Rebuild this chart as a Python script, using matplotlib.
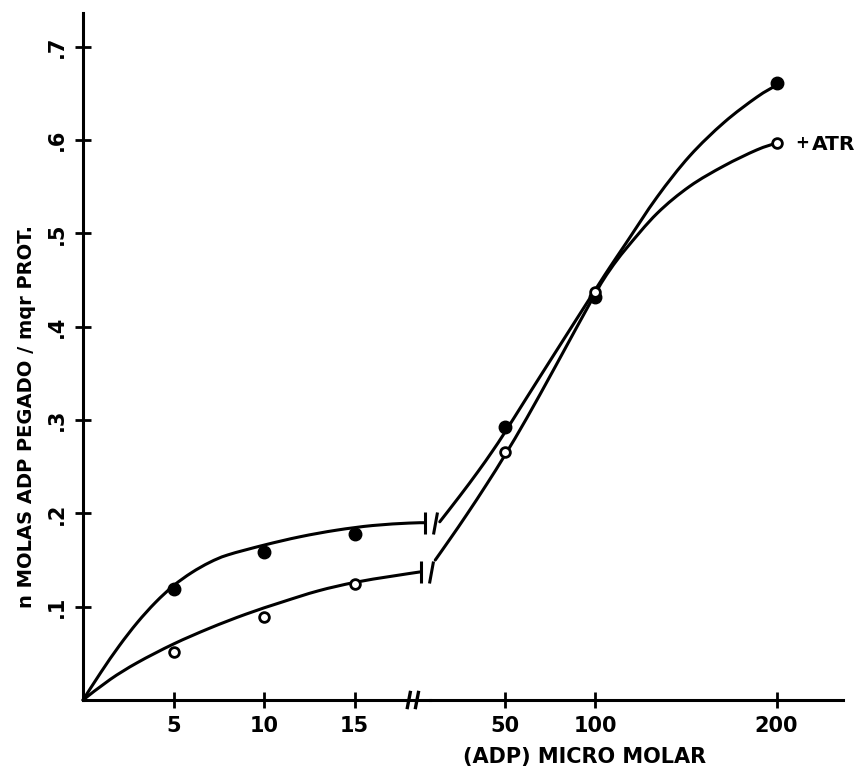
import matplotlib
matplotlib.use("Agg")
import matplotlib.pyplot as plt
import numpy as np
from matplotlib.markers import MarkerStyle
from matplotlib.path import Path
from matplotlib.patches import PathPatch
from matplotlib.transforms import Affine2D, blended_transform_factory

plt.rcParams['font.family'] = ['DejaVu Sans']
plt.rcParams['font.weight'] = 'bold'

# ---- data: measured points ----
x_low = [5, 10, 15]
filled_low = [0.119, 0.159, 0.178]
open_low = [0.051, 0.089, 0.124]

x_high = [50, 100, 200]
filled_high = [0.293, 0.432, 0.661]
open_high = [0.266, 0.437, 0.597]

# ---- hand-drawn guide curves ----
top_low_x = [0, 1, 2, 3, 4, 5, 6, 7, 8, 10, 12, 14, 16, 18, 18.9]
top_low_y = [0, 0.030, 0.058, 0.083, 0.1045, 0.1225, 0.1365, 0.1475, 0.1555, 0.166,
             0.175, 0.182, 0.187, 0.1896, 0.190]
bot_low_x = [0, 1.5, 3, 5, 7, 9, 11, 13, 15, 17, 18.7]
bot_low_y = [0, 0.022, 0.040, 0.060, 0.077, 0.092, 0.105, 0.117, 0.126, 0.1325, 0.1375]

top_high_x = [14, 25, 35, 43, 50, 62, 78, 100, 108, 117, 134, 152, 171, 189, 200]
top_high_y = [0.191, 0.2185, 0.2445, 0.2665, 0.287, 0.324, 0.373, 0.440, 0.464,
              0.490, 0.539, 0.583, 0.619, 0.646, 0.659]
bot_high_x = [11.5, 20, 29, 40, 50, 62, 78, 100, 108, 117, 134, 152, 171, 189, 200]
bot_high_y = [0.150, 0.1735, 0.199, 0.2315, 0.2625, 0.302, 0.358, 0.436, 0.461,
              0.484, 0.5215, 0.5505, 0.5725, 0.5895, 0.597]

y_ticks = [0.1, 0.2, 0.3, 0.4, 0.5, 0.6, 0.7]
y_ticklabels = ['.1', '.2', '.3', '.4', '.5', '.6', '.7']
xlabel = '(ADP) MICRO MOLAR'
ylabel = 'n MOLAS ADP PEGADO / mqr PROT.'
atr_plus = '+'
atr_label = 'ATR'


def smooth_path(xs, ys):
    """Smooth pen stroke through the read points (Catmull-Rom as Bezier)."""
    p = np.column_stack([xs, ys]).astype(float)
    n = len(p)
    verts = [p[0]]
    codes = [Path.MOVETO]
    for i in range(n - 1):
        p0 = p[i - 1] if i > 0 else p[i]
        p1, p2 = p[i], p[i + 1]
        p3 = p[i + 2] if i + 2 < n else p[i + 1]
        c1 = p1 + (p2 - p0) / 6.0
        c2 = p2 - (p3 - p1) / 6.0
        verts += [c1, c2, p2]
        codes += [Path.CURVE4] * 3
    return Path(verts, codes)


W, H = 863, 773
fig = plt.figure(figsize=(W / 100, H / 100), dpi=100)
fig.patch.set_facecolor('white')

ax_bottom = 73 / H
ax_height = 686.7 / H
axL = fig.add_axes([83 / W, ax_bottom, (430 - 83) / W, ax_height])
axR = fig.add_axes([430 / W, ax_bottom, (843 - 430) / W, ax_height], sharey=axL)

axL.set_xlim(0, 19.17)
axR.set_xlim(8.6, 236.7)
axL.set_ylim(0, 0.736)

lw = 2.2
for ax in (axL, axR):
    ax.patch.set_alpha(0)
    for s in ('top', 'right'):
        ax.spines[s].set_visible(False)
    ax.spines['bottom'].set_linewidth(lw)
    ax.tick_params(axis='x', direction='inout', length=11, width=2, labelsize=15, pad=6)
axR.spines['left'].set_visible(False)
axL.spines['left'].set_linewidth(lw)
axR.tick_params(axis='y', left=False, labelleft=False)
axL.tick_params(axis='y', direction='inout', length=11, width=2, labelsize=15,
                pad=6, labelrotation=90)

axL.set_yticks(y_ticks)
axL.set_yticklabels(y_ticklabels, va='center')
axL.set_xticks(x_low)
axR.set_xticks(x_high)
for lab in axL.get_xticklabels() + axR.get_xticklabels() + axL.get_yticklabels():
    lab.set_fontweight('bold')

# guide curves
for ax, xs, ys in ((axL, top_low_x, top_low_y), (axL, bot_low_x, bot_low_y),
                   (axR, top_high_x, top_high_y), (axR, bot_high_x, bot_high_y)):
    patch = PathPatch(smooth_path(xs, ys), facecolor='none', edgecolor='black',
                      lw=lw, capstyle='round', joinstyle='round', clip_on=False)
    ax.add_patch(patch)

# break bars on curves
bar_kw = dict(color='black', markersize=16, markeredgewidth=2.2, clip_on=False, ls='none')
axL.plot([top_low_x[-1]], [top_low_y[-1]], marker='|', **bar_kw)
axL.plot([bot_low_x[-1]], [bot_low_y[-1]], marker='|', **bar_kw)
slant = MarkerStyle('|', transform=Affine2D().rotate_deg(-12))
axR.plot([top_high_x[0] - 2.5], [top_low_y[-1]], marker=slant, **bar_kw)
axR.plot([bot_high_x[0] - 2.5], [bot_low_y[-1]], marker=slant, **bar_kw)

# data markers
fkw = dict(ls='none', marker='o', markersize=9, color='black', clip_on=False, zorder=5)
okw = dict(ls='none', marker='o', markersize=7, markerfacecolor='white',
           markeredgecolor='black', markeredgewidth=2, clip_on=False, zorder=5)
axL.plot(x_low, filled_low, **fkw)
axL.plot(x_low, open_low, **okw)
axR.plot(x_high, filled_high, **fkw)
axR.plot(x_high, open_high, **okw)

# axis break on x axis
tr = blended_transform_factory(axL.transData, axL.transAxes)
for xb in (18.0, 18.45):
    axL.plot([xb - 0.08, xb + 0.08], [-0.011, 0.011], transform=tr, color='black',
             lw=2.4, clip_on=False)

# +ATR label
axR.annotate(atr_plus, xy=(x_high[-1], open_high[-1]), xytext=(13.5, 0),
             textcoords='offset points', va='center', ha='left',
             fontsize=12, fontweight='bold', annotation_clip=False)
axR.annotate(atr_label, xy=(x_high[-1], open_high[-1]), xytext=(25.5, -1),
             textcoords='offset points', va='center', ha='left',
             fontsize=14.5, fontweight='bold', annotation_clip=False)

fig.text(585 / W, 1 - 757 / H, xlabel, ha='center', va='center', fontsize=15,
         fontweight='bold')
fig.text(27 / W, 1 - 416 / H, ylabel, ha='center', va='center', rotation=90,
         fontsize=14, fontweight='bold')

fig.savefig('out.png', dpi=100, facecolor='white')
